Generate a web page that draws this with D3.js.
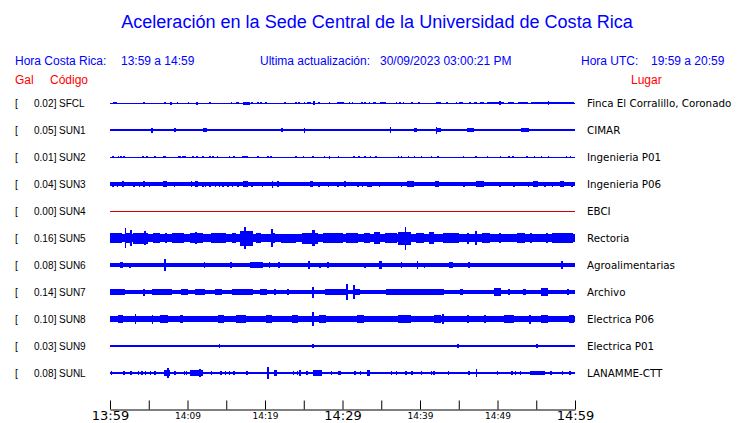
<!DOCTYPE html>
<html><head><meta charset="utf-8">
<script src="https://cdn.jsdelivr.net/npm/d3@7"></script>
<style>
html,body{margin:0;padding:0;background:#fff;}
svg{display:block;}
</style></head>
<body>
<svg id="chart" width="740" height="423"></svg>
<script>
// ---------- data ----------
const title = "Aceleración en la Sede Central de la Universidad de Costa Rica";
const horaCR = "13:59 a 14:59";
const horaUTC = "19:59 a 20:59";
const ultima = "30/09/2023 03:00:21 PM";

const codes = ["SFCL","SUN1","SUN2","SUN3","SUN4","SUN5","SUN6","SUN7","SUN8","SUN9","SUNL"];
const galValues = [0.02,0.05,0.01,0.04,0.00,0.16,0.08,0.14,0.10,0.03,0.08];
const places = ["Finca El Corralillo, Coronado","CIMAR","Ingenieria P01","Ingenieria P06","EBCI","Rectoria",
  "Agroalimentarias","Archivo","Electrica P06","Electrica P01","LANAMME-CTT"];
// background noise amplitude (relative units)
const baseAmp = [0.5,1.4,0.5,1.7,0,4.0,1.7,2.4,2.8,1.4,1.3];

// bursts: [start minute, end minute, amplitude]  (minutes after 13:59)
const evSFCL = [[0.4,0.4,1.2],[0.7,0.7,1.2],[4.3,4.3,1],[7.0,7.2,1.3],[7.7,8.0,1.5],[8.6,8.6,1.3],[10.0,10.0,1.3],[11.1,11.3,1.5],[12.8,12.8,1.2],[15.6,15.6,1],[16.3,16.3,1],[16.5,16.5,1],[17.2,18.0,1.5],[18.2,18.5,1.3],[19.0,19.0,1.3],[19.3,19.6,1.3],[20.0,20.0,1.2],[22.5,22.5,1.2],[23.9,23.9,1],[24.3,24.3,1],[25.0,25.0,1.2],[25.4,25.9,1.3],[26.2,26.2,2.2],[26.9,26.9,1.2],[28.2,28.2,1.2],[29.3,29.3,1.2],[29.5,30.2,1.4],[30.8,30.8,1.2],[31.2,31.2,1.2],[32.4,32.4,1],[32.8,32.8,1],[33.4,33.5,1.2],[33.9,34.3,1.2],[34.9,35.6,1.3],[36.9,36.9,1.2],[37.3,37.3,1.2],[37.8,37.8,1],[38.9,38.9,1.3],[39.7,40.0,1.3],[42.0,42.7,1.3],[43.4,43.4,1.2],[44.6,44.6,1.2],[45.0,45.5,1.3],[46.3,46.6,1.2],[47.0,47.4,1.3],[47.8,48.2,1.3],[48.7,50.8,1.3],[50.2,50.2,2.2],[51.3,52.1,1.3],[52.6,53.9,1.3],[54.3,59.9,1.4],[56.5,56.5,2]];
const evSUN1 = [[5.3,5.3,2.5],[8.3,8.3,2.2],[12.0,12.5,1.8],[22.1,22.1,2],[25.0,25.0,2.5],[36.1,36.1,2.7],[39.2,39.6,2],[42.0,42.0,3.5],[42.2,42.7,2.3],[46.0,47.0,1.8],[53.0,54.0,1.8]];
const evSUN2 = [[0.3,0.5,1.3],[1.0,1.0,1.2],[1.3,1.3,1.2],[1.7,1.9,1.3],[4.1,4.4,1.3],[4.7,4.7,1.2],[5.7,5.7,1.2],[6.8,7.2,1.4],[8.8,9.1,1.3],[9.3,9.3,1.2],[9.6,9.6,1.2],[10.6,10.6,1.2],[11.1,11.4,1.4],[11.9,11.9,1.2],[12.8,12.8,1.2],[13.2,13.2,1.2],[13.8,13.8,1.2],[15.3,15.3,1.2],[15.9,15.9,1.2],[17.0,17.8,1.4],[19.0,19.0,1.2],[20.3,20.3,1.2],[20.7,20.7,1.2],[23.9,23.9,1.2],[24.9,24.9,1.2],[26.1,26.1,1.2],[27.6,27.6,1.2],[28.2,28.2,1.5],[29.4,29.4,1.2],[31.4,31.4,1.2],[32.0,32.0,1.2],[32.8,32.8,1.2],[33.5,33.5,1.2],[34.2,34.2,1.2],[37.1,37.1,1.2],[37.5,37.5,1.2],[38.4,38.6,1.4],[39.2,39.2,1.2],[40.1,40.1,1.2],[41.4,41.4,1.2],[42.2,42.2,1.2],[45.5,45.5,1.2],[47.1,47.1,1.2],[48.6,48.6,1.2],[50.3,50.3,1.2],[51.4,51.4,1.2],[51.9,51.9,1.2],[53.7,53.9,1.4],[54.7,54.7,1.2],[55.6,55.6,1.2],[56.5,56.5,1.2],[58.8,58.8,1.2],[59.3,59.3,1.2]];
const evSUN3 = [[0.2,0.5,2.5],[0.9,0.9,2.5],[1.5,1.8,2.7],[3.0,3.0,2.5],[3.7,3.7,2.5],[4.3,4.5,3.2],[5.0,5.2,2.5],[6.9,7.3,2.7],[8.2,8.2,2.5],[10.4,10.6,2.7],[11.0,11.4,3.2],[11.9,11.9,2.5],[12.2,12.2,2.5],[12.8,12.8,2.5],[13.5,13.5,2.5],[14.0,14.0,2.5],[14.5,14.5,2.5],[15.1,15.1,2.5],[15.7,15.7,2.5],[16.4,16.4,2.5],[17.2,17.8,2.8],[18.2,18.2,2.5],[19.6,19.6,2.5],[20.9,20.9,3.5],[21.6,21.6,2.7],[25.8,26.2,2.7],[26.9,26.9,2.5],[28.1,28.1,2.5],[29.3,29.3,2.5],[30.2,30.5,2.7],[31.9,31.9,2.5],[32.5,32.5,2.5],[33.2,33.8,2.5],[34.7,34.7,2.5],[37.5,37.5,2.5],[38.3,39.2,2.7],[41.9,42.5,2.7],[45.6,45.6,2.5],[47.2,48.3,2.7],[50.2,50.2,2.5],[52.0,52.0,2.5],[53.9,53.9,2.5],[54.6,55.2,2.7],[56.0,56.0,2.5],[57.0,57.0,2.5],[58.0,58.6,2.7],[59.5,59.5,2.5]];
const evSUN4 = [];
const evSUN5 = [[0.0,1.5,4.6],[1.9,1.9,10],[2.1,2.6,5],[2.6,2.6,8],[3.0,4.9,5.5],[4.4,4.4,7],[5.5,6.5,4.6],[7.1,7.1,5],[8.0,9.5,4.6],[10.3,12.0,5.2],[11.0,11.0,6],[13.0,15.0,4.6],[15.8,16.3,5],[16.8,18.4,7.5],[17.3,17.6,11],[18.9,19.5,4.6],[20.8,20.8,9],[21.0,21.3,5],[22.0,24.0,4.5],[24.8,26.9,5.5],[26.1,26.4,8],[27.5,30.0,4.6],[30.5,32.0,4.6],[32.8,33.5,5],[34.0,34.9,6],[35.5,37.0,4.6],[37.2,38.9,6.5],[38.0,38.2,11.5],[39.5,40.5,4.6],[41.1,41.8,6],[43.0,45.0,4.6],[46.1,46.1,5.5],[47.1,47.1,7],[48.0,49.0,4.6],[50.2,50.5,4.6],[52.5,53.5,4.6],[54.2,54.2,5],[56.3,56.3,5],[57.0,59.8,4.6]];
const evSUN6 = [[1.3,1.7,2.7],[2.5,2.5,2.5],[4.0,5.0,2.2],[5.5,6.5,2.3],[7.0,7.0,6],[8.3,9.5,2.2],[12.1,12.1,2.7],[15.5,15.5,2.7],[18.1,19.7,2.6],[20.5,20.5,3.3],[21.7,21.7,2.7],[25.6,25.6,4],[27.0,27.0,2.5],[28.0,28.0,2.7],[30.2,31.5,2.2],[32.8,32.8,2.5],[34.7,35.1,4],[37.5,37.5,2.7],[39.6,39.6,4],[40.5,40.5,2.5],[43.7,44.2,2.7],[46.2,46.2,2.7],[47.0,48.2,2.2],[51.0,52.8,2.2],[58.2,58.2,4]];
const evSUN7 = [[0.0,1.9,3.2],[4.3,4.5,3.5],[5.4,8.0,3],[9.1,10.0,3],[11.0,12.3,3],[13.6,14.5,3],[15.8,18.4,3],[19.3,20.3,2.8],[21.1,21.4,3],[22.9,22.9,3],[26.1,26.1,5.5],[27.8,30.4,3.4],[30.5,30.5,8],[31.4,31.4,7],[31.5,32.3,3],[35.6,43.1,2.8],[45.1,45.6,3],[49.5,50.4,3.7],[51.4,51.4,3],[53.3,53.7,3],[55.6,56.5,4],[59.0,59.0,3]];
const evSUN8 = [[1.0,1.7,3.6],[3.2,3.2,5],[5.4,5.4,4.5],[6.5,7.5,4],[9.0,9.4,3.6],[11.3,12.1,3.3],[13.9,14.7,3.6],[16.2,17.6,3.6],[20.1,20.9,3.6],[23.5,24.3,3.6],[26.1,26.1,7],[27.0,27.9,4],[29.0,30.2,3.3],[31.9,32.8,4],[37.1,38.9,3.6],[41.8,42.7,4],[42.9,42.9,5],[46.1,46.1,3.6],[48.3,48.3,3.6],[50.8,52.1,3.6],[54.1,54.1,4.5],[55.6,56.5,3.6],[59.2,59.9,4.3]];
const evSUN9 = [[14.0,14.0,1.7],[26.1,26.1,2.1],[44.8,44.8,1.7],[55.0,55.0,1.7]];
const evSUNL = [[0.1,0.1,2],[1.7,1.7,1.7],[2.6,2.6,1.7],[3.6,3.6,1.7],[4.0,4.0,1.7],[4.5,4.5,1.7],[5.1,5.1,1.7],[5.7,5.7,1.7],[7.0,7.8,2.7],[7.4,7.4,5],[8.3,8.3,1.7],[9.5,9.5,1.7],[9.8,9.8,1.7],[10.3,12.0,2.7],[11.5,11.5,4],[13.0,13.0,1.7],[14.2,14.2,1.7],[14.8,14.8,1.7],[15.3,15.3,1.7],[15.9,15.9,1.7],[17.6,17.6,1.7],[20.3,20.5,6],[21.1,21.6,2.7],[23.6,23.6,1.7],[24.1,24.1,1.7],[24.4,24.4,3.3],[25.3,25.3,1.7],[26.2,27.4,3.3],[28.5,28.5,1.7],[29.4,29.8,2.3],[31.5,31.5,1.7],[32.2,32.2,1.7],[33.1,33.5,2.7],[36.2,36.2,1.7],[36.9,36.9,1.7],[38.1,38.1,1.7],[38.9,38.9,1.7],[40.1,40.1,2.3],[41.4,41.4,1.7],[41.7,41.7,1.7],[43.6,43.6,1.7],[46.2,46.2,2],[47.2,47.2,4.3],[49.9,49.9,1.7],[51.8,51.8,1.7],[52.2,52.2,1.7],[52.9,52.9,1.7],[54.2,56.1,1.7],[56.8,56.8,1.7],[58.3,58.3,1.7],[59.2,59.5,1.7]];
const events = [evSFCL,evSUN1,evSUN2,evSUN3,evSUN4,evSUN5,evSUN6,evSUN7,evSUN8,evSUN9,evSUNL];

const startTime = new Date(2023,8,30,13,59,0);
const endTime = new Date(2023,8,30,14,59,0);
const tickMinutes = [0,5,10,15,20,25,30,35,40,45,50,55,60];
const bigLabels = ["13:59","14:29","14:59"];

// ---------- drawing ----------
const svg = d3.select("#chart");
const BLUE = "#0000ff", RED = "#ff0000";
const SANS = "'Liberation Sans', Arial, sans-serif";
const DJV = "'DejaVu Sans', sans-serif";

const x = d3.scaleTime().domain([startTime, endTime]).range([110, 575]);
const y = d3.scalePoint().domain(codes).range([103, 373]);
const amp = d3.scaleLinear().domain([0, 10]).range([0, 10]);
const tmin = m => new Date(startTime.getTime() + m * 60000);

// title
const tt = svg.append("text").attr("x", 377).attr("y", 28).attr("text-anchor", "middle")
  .attr("font-family", SANS).attr("font-size", 18).attr("fill", BLUE).text(title);
const tw = tt.node().getComputedTextLength();
tt.attr("font-size", 18 * 512 / tw);

// header
const hdr = [["Hora Costa Rica:", 15], [horaCR, 121], ["Ultima actualización:", 260], [ultima, 380], ["Hora UTC:", 581], [horaUTC, 651]];
svg.selectAll("text.hdr").data(hdr).enter().append("text").attr("class", "hdr")
  .attr("x", d => d[1]).attr("y", 65).attr("font-family", SANS).attr("font-size", 12)
  .attr("fill", BLUE).text(d => d[0]);
svg.selectAll("text.col").data([["Gal", 15], ["Código", 50], ["Lugar", 631]]).enter().append("text").attr("class", "col")
  .attr("x", d => d[1]).attr("y", 84).attr("font-family", SANS).attr("font-size", 12)
  .attr("fill", RED).text(d => d[0]);

// rows
const rows = codes.map((c, i) => ({ code: c, gal: galValues[i], place: places[i], base: baseAmp[i], ev: events[i] }));
const g = svg.selectAll("g.row").data(rows).enter().append("g").attr("class", "row")
  .attr("transform", d => `translate(0,${y(d.code)})`);

g.append("text").attr("x", 15).attr("y", 3.7).attr("font-family", SANS).attr("font-size", 10).attr("fill", "#000").text("[");
g.append("text").attr("x", 53.5).attr("y", 3.7).attr("text-anchor", "end").attr("font-family", SANS).attr("font-size", 10).attr("fill", "#000").text(d => d.gal.toFixed(2));
g.append("text").attr("x", 53.8).attr("y", 3.7).attr("font-family", SANS).attr("font-size", 10).attr("fill", "#000").text("]");
g.append("text").attr("x", 59).attr("y", 3.7).attr("font-family", SANS).attr("font-size", 10).attr("fill", "#000").text(d => d.code);
g.append("text").attr("x", 587).attr("y", 3.7).attr("font-family", DJV).attr("font-size", 10.3).attr("fill", "#000").text(d => d.place);

g.each(function (d) {
  const gg = d3.select(this);
  if (d.base > 0) {
    gg.append("rect").attr("x", x(startTime)).attr("width", x(endTime) - x(startTime))
      .attr("y", -amp(d.base)).attr("height", 2 * amp(d.base)).attr("fill", BLUE)
      .attr("shape-rendering", "crispEdges");
  } else {
    gg.append("line").attr("x1", x(startTime)).attr("x2", x(endTime)).attr("y1", 0.5).attr("y2", 0.5)
      .attr("stroke", "#cc0000").attr("stroke-width", 1).attr("shape-rendering", "crispEdges");
  }
  gg.selectAll("rect.ev").data(d.ev).enter().append("rect").attr("class", "ev")
    .attr("x", e => x(tmin(e[0])))
    .attr("width", e => Math.max(1.5, x(tmin(e[1])) - x(tmin(e[0]))))
    .attr("y", e => -amp(e[2])).attr("height", e => 2 * amp(e[2]))
    .attr("fill", BLUE).attr("shape-rendering", "crispEdges");
});

// time axis
const axis = d3.axisBottom(x).tickValues(tickMinutes.map(tmin))
  .tickSizeInner(-9).tickSizeOuter(0).tickPadding(0)
  .tickFormat((d, i) => i % 2 === 0 ? d3.timeFormat("%H:%M")(d) : "");
const ax = svg.append("g").attr("transform", "translate(0,409.5)").call(axis);
ax.select(".domain").attr("stroke", "#000");
ax.selectAll(".tick line").attr("stroke", "#000");
ax.selectAll(".tick text").attr("fill", "#000").attr("font-family", DJV)
  .attr("font-size", function () { return bigLabels.includes(this.textContent) ? 13 : 9; })
  .attr("y", function () { return bigLabels.includes(this.textContent) ? 10.5 : 9.5; })
  .attr("dy", 0);
</script>
</body></html>
